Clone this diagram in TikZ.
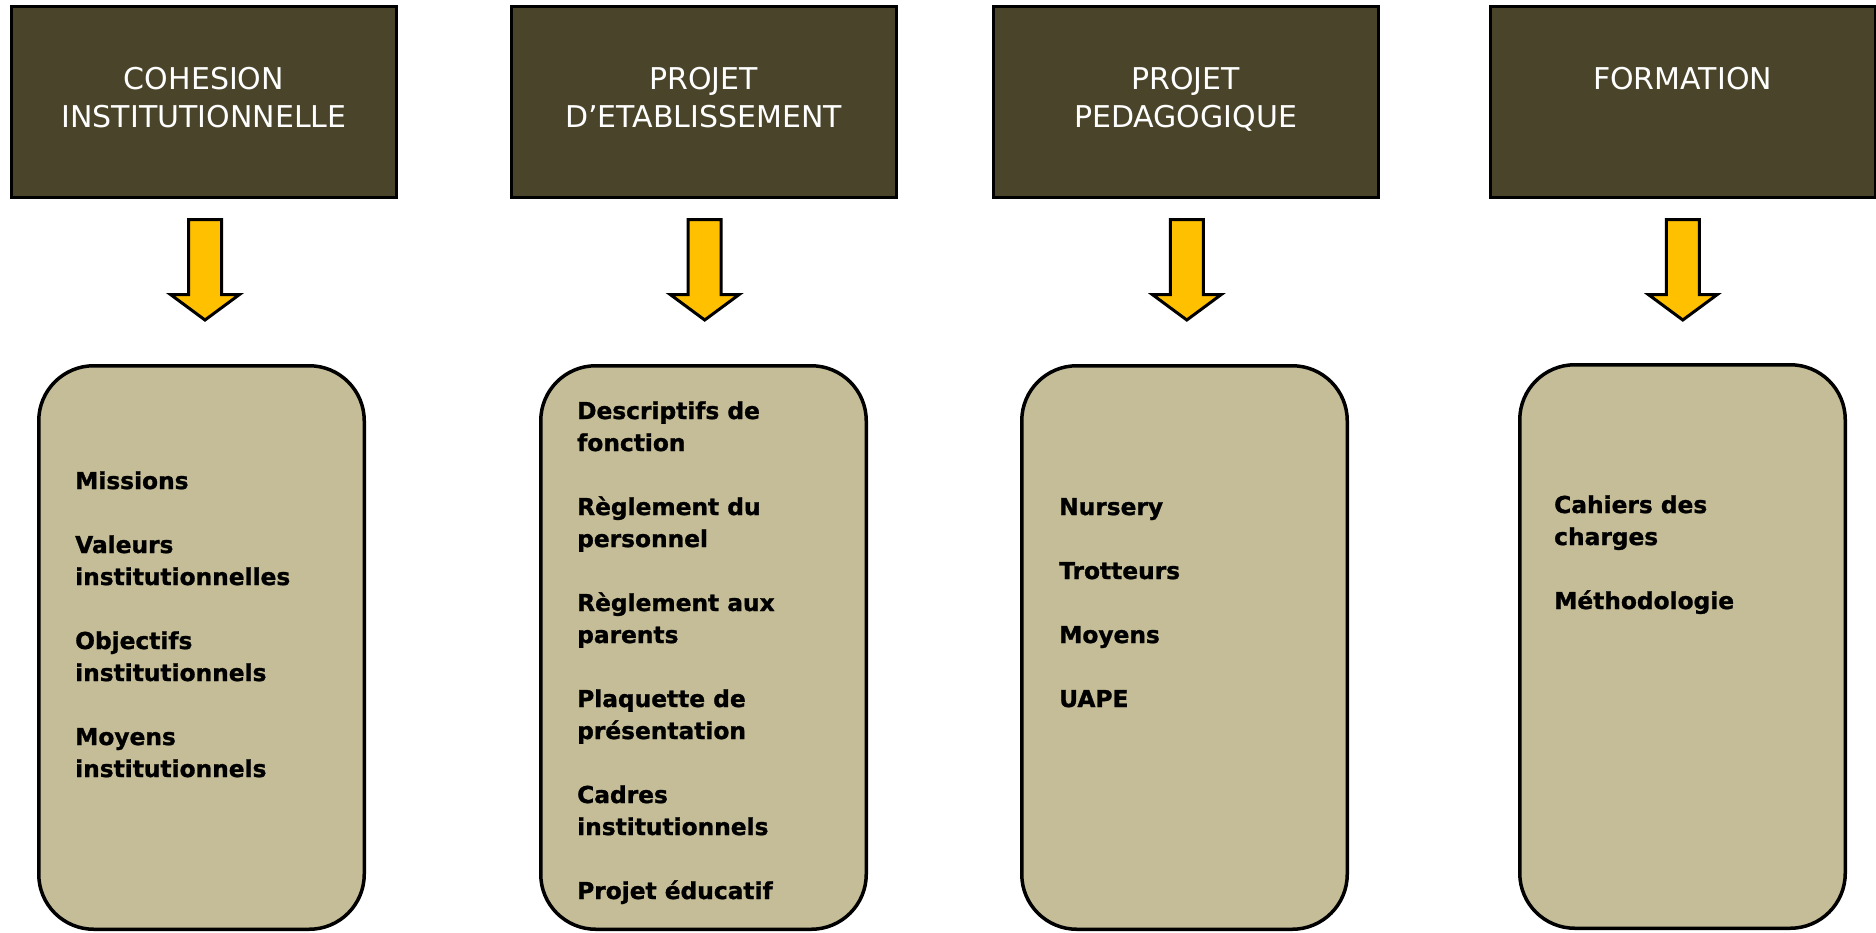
\documentclass[tikz,border=0pt]{standalone}
\usepackage{fontspec}
\setmainfont{DejaVu Sans}
\newfontfamily\itemfont{DejaVu Sans Bold}[FakeBold=1.2]
\definecolor{topfill}{HTML}{4A452A}
\definecolor{botfill}{HTML}{C4BD97}
\definecolor{arrowgold}{HTML}{FFC000}
\begin{document}
\begin{tikzpicture}[x=1pt,y=-1pt,
  topbox/.style={draw=black, line width=3pt, fill=topfill, rectangle, inner sep=0pt,
                 minimum width=385pt, minimum height=191.5pt},
  botbox/.style={draw=black, line width=3.5pt, fill=botfill, rectangle, rounded corners=55pt,
                 inner sep=0pt, minimum width=325.5pt, minimum height=563.5pt},
  titletext/.style={text=white, inner sep=0pt, anchor=base,
                 font=\fontsize{30}{38}\selectfont},
  itemtext/.style={text=black, inner sep=0pt, anchor=base west,
                 font=\itemfont\fontsize{23.3}{32}\selectfont},
  blockarrow/.style={draw=black, line width=3pt, fill=arrowgold, line join=miter},
  downarrow/.pic={\path[blockarrow] (-16.5,219.5) -- (-16.5,294.5) -- (-34.5,294.5) -- (0,320)
                 -- (34.5,294.5) -- (16.5,294.5) -- (16.5,219.5) -- cycle;}
]
\useasboundingbox (0,0) rectangle (1876,932);
\fill[white] (0,0) rectangle (1876,932);

% top boxes
\node[topbox] (t1) at (204,102) {};
\node[topbox] (t2) at (703.5,102) {};
\node[topbox] (t3) at (1185.6,102) {};
\node[topbox] (t4) at (1682.5,102) {};

\node[titletext] (tt1) at (204,89) {\parbox[t]{380pt}{\centering COHESION\\INSTITUTIONNELLE}};
\node[titletext] (tt2) at (703.5,89) {\parbox[t]{380pt}{\centering PROJET\\D’ETABLISSEMENT}};
\node[titletext] (tt3) at (1185.6,89) {\parbox[t]{380pt}{\centering PROJET\\PEDAGOGIQUE}};
\node[titletext] (tt4) at (1682.5,89) {\parbox[t]{380pt}{\centering FORMATION}};

% arrows
\pic at (205,0) {downarrow};
\pic at (704.7,0) {downarrow};
\pic at (1186.8,0) {downarrow};
\pic at (1682.8,0) {downarrow};

% bottom boxes
\node[botbox] (b1) at (201.5,647.5) {};
\node[botbox] (b2) at (703.5,647.5) {};
\node[botbox] (b3) at (1184.5,647.5) {};
\node[botbox] (b4) at (1682.5,646.5) {};

\node[itemtext] (i1) at (75,489) {\parbox[t]{280pt}{\raggedright
  Missions\\[32pt]Valeurs\\institutionnelles\\[32pt]Objectifs\\institutionnels\\[32pt]Moyens\\institutionnels}};
\node[itemtext] (i2) at (577,419) {\parbox[t]{280pt}{\raggedright
  Descriptifs de\\fonction\\[32pt]Règlement du\\personnel\\[32pt]Règlement aux\\parents\\[32pt]Plaquette de\\présentation\\[32pt]Cadres\\institutionnels\\[32pt]Projet éducatif}};
\node[itemtext] (i3) at (1059,515) {\parbox[t]{280pt}{\raggedright
  Nursery\\[32pt]Trotteurs\\[32pt]Moyens\\[32pt]UAPE}};
\node[itemtext] (i4) at (1554,513) {\parbox[t]{280pt}{\raggedright
  Cahiers des\\charges\\[32pt]Méthodologie}};
\end{tikzpicture}
\end{document}
